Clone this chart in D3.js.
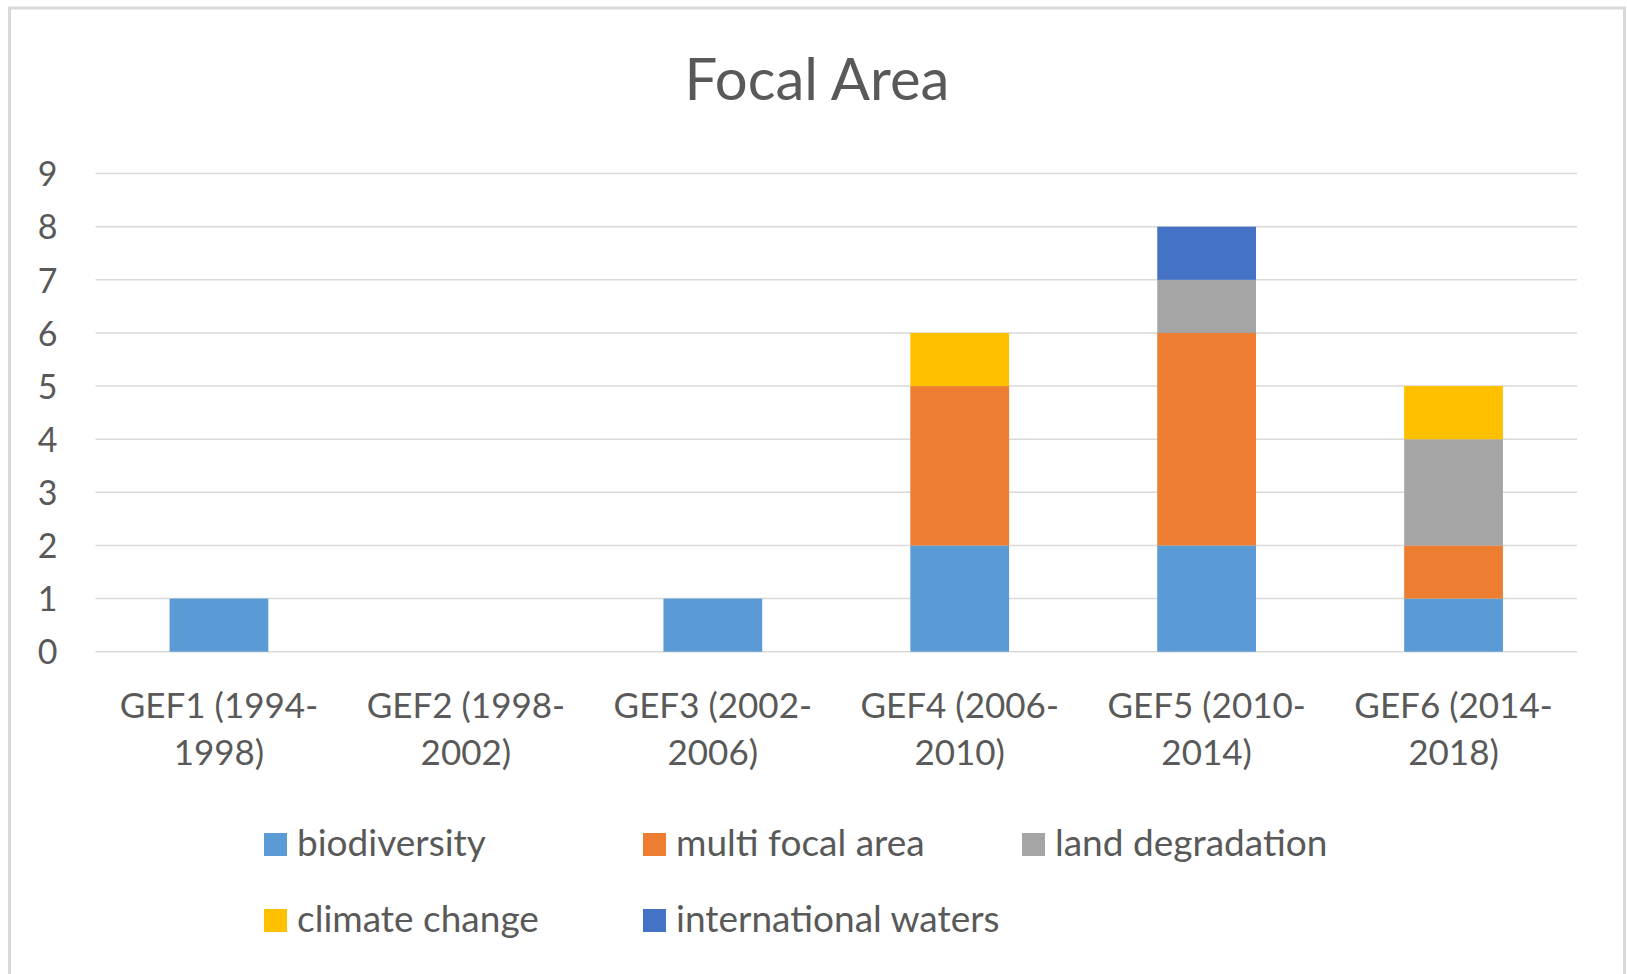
<!DOCTYPE html>
<html>
<head>
<meta charset="utf-8">
<script src="https://cdn.jsdelivr.net/npm/d3@7"></script>
<style>
  html, body { margin: 0; padding: 0; background: #fff; }
  svg text { font-family: Lato, "Open Sans", sans-serif; fill: #595959; }
</style>
</head>
<body>
<div id="chart"></div>
<script>
// data
var periods = [
    ["GEF1 (1994-", "1998)"],
    ["GEF2 (1998-", "2002)"],
    ["GEF3 (2002-", "2006)"],
    ["GEF4 (2006-", "2010)"],
    ["GEF5 (2010-", "2014)"],
    ["GEF6 (2014-", "2018)"]
];
var seriesNames = ["biodiversity", "multi focal area", "land degradation", "climate change", "international waters"];
var seriesColors = ["#5B9BD5", "#ED7D31", "#A5A5A5", "#FFC000", "#4472C4"];
var biodiversity = [1, 0, 1, 2, 2, 1];
var multiFocalArea = [0, 0, 0, 3, 4, 1];
var landDegradation = [0, 0, 0, 0, 1, 2];
var climateChange = [0, 0, 0, 1, 0, 1];
var internationalWaters = [0, 0, 0, 0, 1, 0];
var yTicks = [0, 1, 2, 3, 4, 5, 6, 7, 8, 9];

var width = 1627, height = 974;
var margin = {top: 173.6, bottom: 974 - 651.7, left: 95.5, right: 1627 - 1577};

var seriesValues = [biodiversity, multiFocalArea, landDegradation, climateChange, internationalWaters];
var rows = periods.map(function(p, i) {
    var row = {key: i};
    seriesNames.forEach(function(s, j) { row[s] = seriesValues[j][i]; });
    return row;
});
var stacked = d3.stack().keys(seriesNames)(rows);

var svg = d3.select("#chart")
    .append("svg")
    .attr("width", width)
    .attr("height", height);

// outer frame
svg.append("rect")
    .attr("x", 9.5)
    .attr("y", 8)
    .attr("width", 1615)
    .attr("height", 1000)
    .attr("fill", "none")
    .attr("stroke", "#D9D9D9")
    .attr("stroke-width", 3);

svg.append("text")
    .attr("x", 817)
    .attr("y", 100)
    .attr("text-anchor", "middle")
    .style("font-size", "58px")
    .text("Focal Area");

var xScale = d3.scaleBand()
    .domain(d3.range(periods.length))
    .range([margin.left, width - margin.right])
    .paddingInner(0.6)
    .paddingOuter(0.3);

var yScale = d3.scaleLinear()
    .domain([0, 9])
    .range([height - margin.bottom, margin.top]);

// gridlines
svg.append("g")
    .selectAll("line")
    .data(yTicks)
    .enter().append("line")
    .attr("x1", margin.left)
    .attr("x2", width - margin.right)
    .attr("y1", function(d) { return yScale(d); })
    .attr("y2", function(d) { return yScale(d); })
    .attr("stroke", "#D9D9D9")
    .attr("stroke-width", 1.5);

var yAxis = svg.append("g")
    .attr("transform", "translate(" + margin.left + ",0)")
    .call(d3.axisLeft(yScale).tickValues(yTicks).tickSize(0).tickPadding(38));
yAxis.select(".domain").remove();
yAxis.selectAll("text")
    .style("font-size", "34px")
    .attr("font-family", null)
    .attr("dy", "0.36em");

// bars
svg.append("g")
    .selectAll("g")
    .data(stacked)
    .enter().append("g")
    .attr("fill", function(d, i) { return seriesColors[i]; })
    .selectAll("rect")
    .data(function(d) { return d.filter(function(v) { return v[1] > v[0]; }); })
    .enter().append("rect")
    .attr("x", function(d) { return xScale(d.data.key); })
    .attr("width", xScale.bandwidth())
    .attr("y", function(d) { return yScale(d[1]); })
    .attr("height", function(d) { return yScale(d[0]) - yScale(d[1]); });

// x labels
var xLabels = svg.append("g")
    .selectAll("text")
    .data(periods)
    .enter().append("text")
    .attr("text-anchor", "middle")
    .style("font-size", "35px")
    .attr("x", function(d, i) { return xScale(i) + xScale.bandwidth() / 2; })
    .attr("y", 718);
xLabels.append("tspan")
    .attr("x", function(d, i) { return xScale(i) + xScale.bandwidth() / 2; })
    .text(function(d) { return d[0]; });
xLabels.append("tspan")
    .attr("x", function(d, i) { return xScale(i) + xScale.bandwidth() / 2; })
    .attr("dy", 47)
    .text(function(d) { return d[1]; });

// legend
var legend = svg.append("g")
    .selectAll("g")
    .data(seriesNames)
    .enter().append("g")
    .attr("transform", function(d, i) {
        return "translate(" + (264 + (i % 3) * 379) + "," + (833 + Math.floor(i / 3) * 76) + ")";
    });
legend.append("rect")
    .attr("width", 23)
    .attr("height", 23)
    .attr("fill", function(d, i) { return seriesColors[i]; });
legend.append("text")
    .attr("x", 33)
    .attr("y", 23)
    .style("font-size", "37px")
    .text(function(d) { return d; });
</script>
</body>
</html>
